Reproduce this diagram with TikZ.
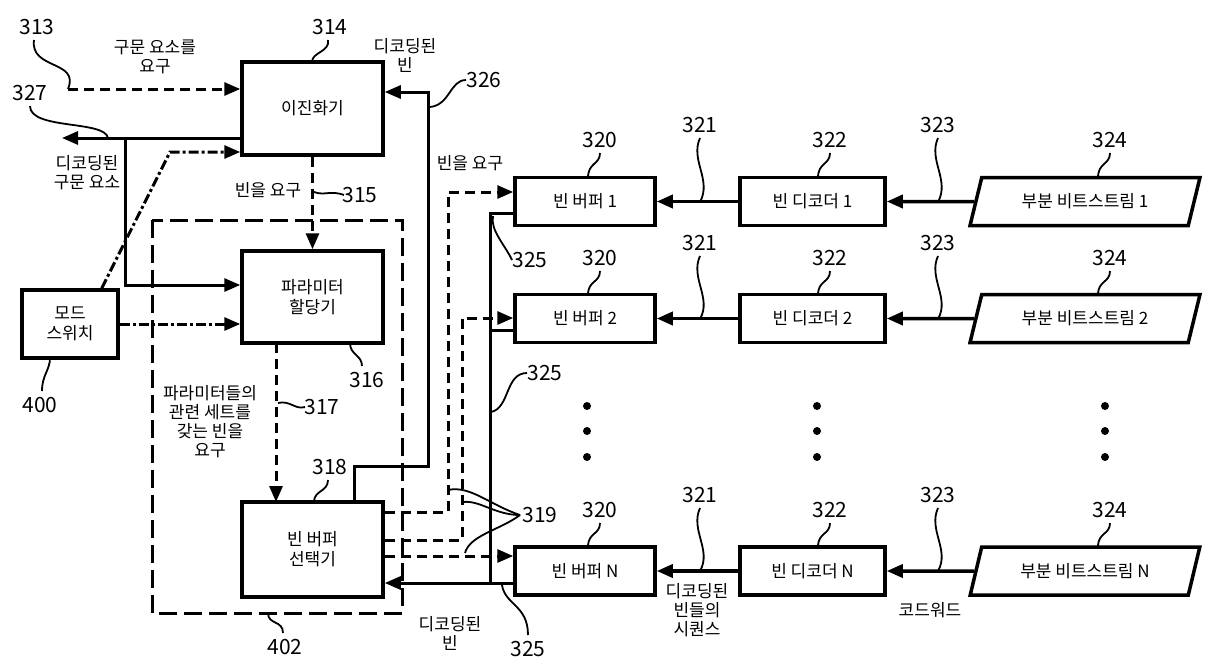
\documentclass[tikz,border=0pt]{standalone}
\usepackage{fontspec}
\setmainfont{Noto Sans CJK KR}
\usetikzlibrary{arrows.meta,shapes.geometric}
\begin{document}
\begin{tikzpicture}[x=1pt,y=-1pt,
 box/.style={draw,line width=3.5pt,align=center,font=\fontsize{17}{20}\selectfont,inner sep=0pt},
 ln/.style={line width=3pt},
 arr/.style={ln,-{Triangle[length=16pt,width=13pt]}},
 dsh/.style={dash pattern=on 10pt off 6pt},
 dd/.style={dash pattern=on 10pt off 3pt on 3pt off 3pt},
 lab/.style={font=\fontsize{21}{22}\selectfont,inner sep=1pt},
 txt/.style={font=\fontsize{17}{19}\selectfont,align=center,inner sep=0pt},
 lead/.style={line width=1.8pt}]
\useasboundingbox (0,0) rectangle (1221,665);
% blocks
\node[box,minimum width=141pt,minimum height=93pt] (bin) at (312.5,108.5) {이진화기};
\node[box,minimum width=141pt,minimum height=92pt] (par) at (312.5,297) {파라미터\\할당기};
\node[box,minimum width=141pt,minimum height=95pt] (sel) at (312.5,549.5) {빈 버퍼\\선택기};
\node[box,minimum width=96pt,minimum height=68pt] (mode) at (70,324) {모드\\스위치};
\draw[line width=3pt,dash pattern=on 18pt off 7pt] (152,220) rectangle (402,613);
\foreach \i/\y/\t in {1/201.5/1,2/318.5/2,3/571/N}{
 \node[box,minimum width=140pt,minimum height=48pt] (bb\i) at (585,\y) {빈 버퍼 \t};
 \node[box,minimum width=145pt,minimum height=48pt] (bd\i) at (812.5,\y) {빈 디코더 \t};
 \node[box,trapezium,trapezium left angle=65,trapezium right angle=115,minimum width=230pt,minimum height=48pt,trapezium stretches=true] (bs\i) at (1085,\y) {부분 비트스트림 \t};
 \draw[arr,line width=3.5pt] (bd\i.west) -- (bb\i.east);
 \draw[arr,line width=3.5pt] (bs\i.west) -- (bd\i.east);
}
\coordinate (i313) at (68,89);
\coordinate (o327) at (62,138);
\draw[ln,dsh,-{Triangle[length=16pt,width=13pt]}] (i313) -- (bin.west|-i313);
\draw[arr] (bin.west|-o327) -- (o327);
\draw[arr] (125,138) -- (125,285) -- (par.west|-0,285);
\draw[ln,dd,-{Triangle[length=16pt,width=13pt]}] (mode.north east)++(-18,0) -- (170,152) -- (bin.west|-0,152);
\draw[ln,dd,-{Triangle[length=16pt,width=13pt]}] (mode.east) -- (par.west|-mode.east);
\draw[ln,dsh,-{Triangle[length=16pt,width=13pt]}] (bin.south) -- (par.north);
\draw[ln,dsh,-{Triangle[length=16pt,width=13pt]}] (276,343) -- (276,502);
\draw[arr] (354,502) -- (354,466) -- (428,466) -- (428,92) -- (bin.east|-0,92);
\draw[ln] (bb1.west|-0,213) -- (490,213) -- (490,583);
\draw[ln] (bb2.west|-0,330) -- (490,330);
\draw[arr] (bb3.west|-0,583) -- (sel.east|-0,583);
\draw[ln,dsh,-{Triangle[length=16pt,width=13pt]}] (sel.east|-0,512) -- (448,512) -- (448,192) -- (bb1.west|-0,192);
\draw[ln,dsh,-{Triangle[length=16pt,width=13pt]}] (sel.east|-0,540) -- (462,540) -- (462,318) -- (bb2.west|-0,318);
\draw[ln,dsh,-{Triangle[length=16pt,width=13pt]}] (sel.east|-0,556) -- (bb3.west|-0,556);
\foreach \x in {587,817,1105}\foreach \y in {406,431,457}\fill (\x,\y) circle (4pt);
% labels
\node[lab] (n313) at (37,27) {313}; \draw[lead] (34,40) .. controls (30,70) and (80,60) .. (i313);
\node[txt] (t1) at (155,57) {구문 요소를\\요구};
\node[lab] (n314) at (330,27) {314}; \draw[lead] (328,40) .. controls (330,52) and (312,52) .. (312,62);
\node[txt] (t2) at (405,55) {디코딩된\\빈};
\node[lab] (n326) at (484,80) {326}; \draw[lead] (466,80) .. controls (450,80) and (450,105) .. (430,107);
\node[lab] (n327) at (30,93) {327}; \draw[lead] (30,106) .. controls (30,130) and (105,120) .. (108,138);
\node[txt] (t3) at (87,173) {디코딩된\\구문 요소};
\node[txt] (t4) at (268,190) {빈을 요구};
\node[lab] (n315) at (360,195) {315}; \draw[lead] (344,195) .. controls (330,190) and (325,196) .. (314,192);
\node[lab] (n316) at (367,380) {316}; \draw[lead] (362,366) .. controls (362,355) and (350,355) .. (350,343);
\node[lab] (n400) at (40,405) {400}; \draw[lead] (42,391) .. controls (42,375) and (50,370) .. (50,358);
\node[txt] (t5) at (210,422) {파라미터들의\\관련 세트를\\갖는 빈을\\요구};
\node[lab] (n317) at (322,407) {317}; \draw[lead] (305,407) .. controls (295,410) and (290,400) .. (278,403);
\node[lab] (n318) at (330,467) {318}; \draw[lead] (328,480) .. controls (328,492) and (314,490) .. (314,502);
\node[lab] (n402) at (285,647) {402}; \draw[lead] (283,633) .. controls (283,620) and (268,625) .. (268,613);
\node[lab] (n319) at (540,515) {319};
\draw[lead] (520,515) .. controls (490,505) and (470,485) .. (448,490);
\draw[lead] (520,515) .. controls (495,515) and (480,500) .. (463,502);
\draw[lead] (520,515) .. controls (500,530) and (470,535) .. (465,553);
\node[txt] (t6) at (450,633) {디코딩된\\빈};
\node[lab] (n325a) at (530,260) {325}; \draw[lead] (512,260) .. controls (505,245) and (490,230) .. (493,216);
\node[lab] (n325b) at (545,373) {325}; \draw[lead] (527,373) .. controls (505,373) and (510,408) .. (491,412);
\node[lab] (n325c) at (528,649) {325}; \draw[lead] (528,635) .. controls (528,605) and (505,605) .. (502,585);
\node[txt] (t7) at (470,163) {빈을 요구};
\foreach \r/\yt/\yl in {1/140/178,2/258/295,3/510/547}{
 \node[lab] at (600,\yt) {320}; \draw[lead] (600,\yt+13) .. controls (600,\yt+25) and (588,\yt+22) .. (588,\yl);
 \node[lab] at (830,\yt) {322}; \draw[lead] (830,\yt+13) .. controls (830,\yt+25) and (818,\yt+22) .. (818,\yl);
 \node[lab] at (1110,\yt) {324}; \draw[lead] (1110,\yt+13) .. controls (1110,\yt+25) and (1098,\yt+22) .. (1098,\yl);
 \node[lab] at (700,\yt-15) {321}; \draw[lead] (700,\yt-2) .. controls (690,\yt+20) and (712,\yt+40) .. (700,\yl+24);
 \node[lab] at (938,\yt-15) {323}; \draw[lead] (938,\yt-2) .. controls (928,\yt+20) and (950,\yt+40) .. (938,\yl+24);
}
\node[txt] (t8) at (697,610) {디코딩된\\빈들의\\시퀀스};
\node[txt] (t9) at (930,610) {코드워드};
\end{tikzpicture}
\end{document}
